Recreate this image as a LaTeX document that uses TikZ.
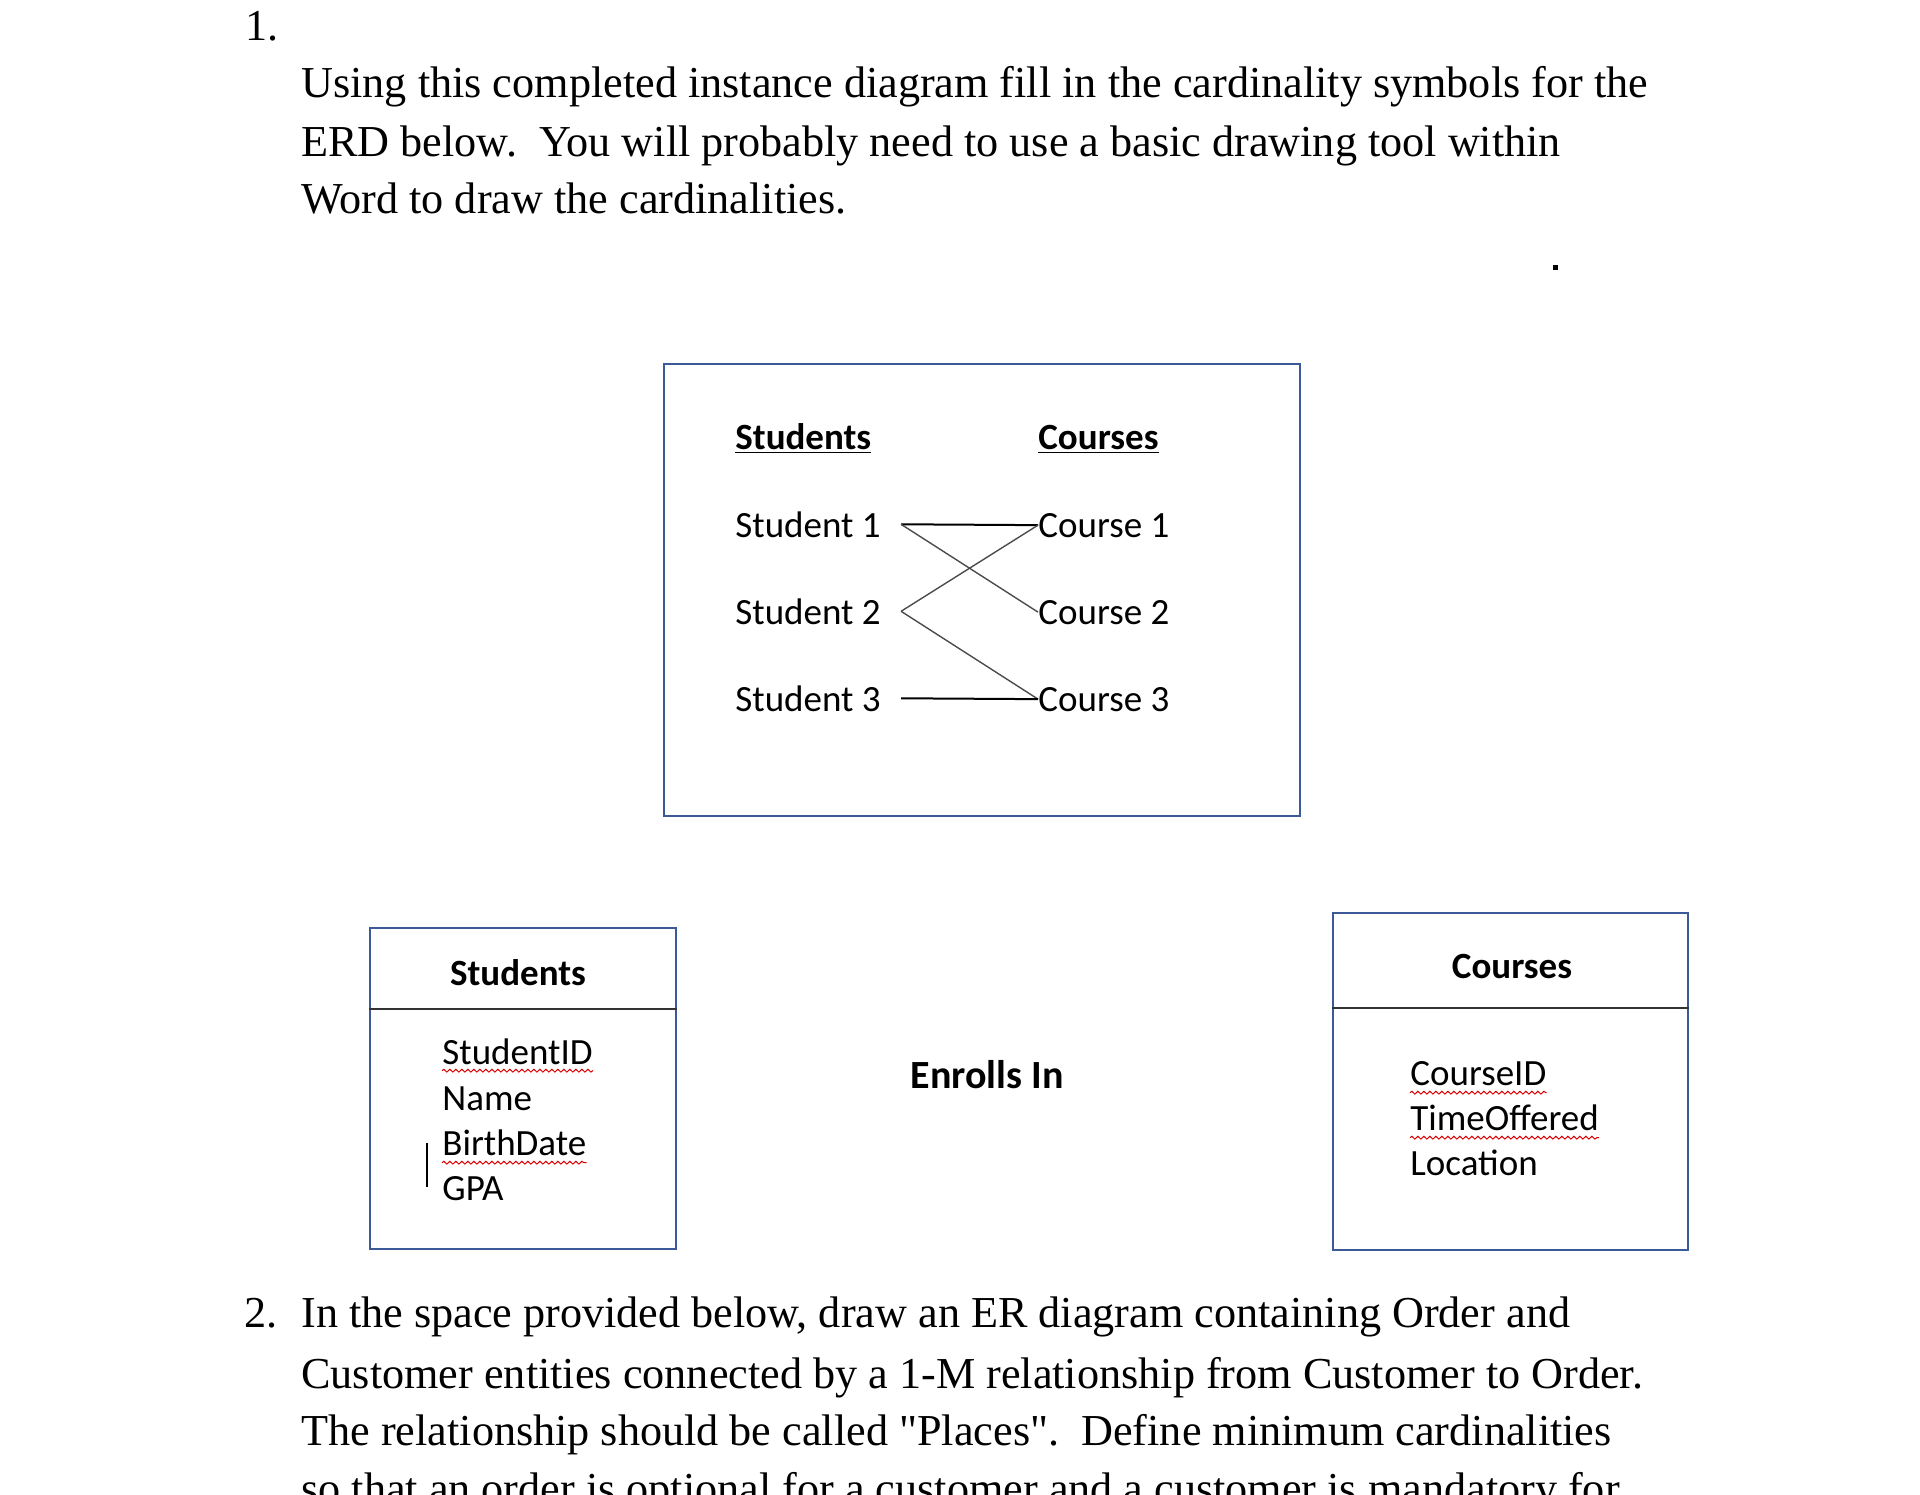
\documentclass[tikz,border=0pt]{standalone}
\usepackage{fontspec}
\newfontfamily\serifplain{Liberation Serif}
\newfontfamily\calfont{Carlito}
\usetikzlibrary{calc,fit,decorations.pathmorphing}
\definecolor{boxblue}{RGB}{60,90,152}
\begin{document}
\begin{tikzpicture}[x=0.5pt,y=-0.5pt,
  para/.style={anchor=base west, inner sep=0pt, font=\serifplain\fontsize{22.1pt}{26pt}\selectfont},
  cal/.style={anchor=base west, inner sep=0pt, font=\calfont\fontsize{18.5pt}{22pt}\selectfont},
  calb/.style={anchor=base, inner sep=0pt, font=\calfont\bfseries\fontsize{18.5pt}{22pt}\selectfont},
  frame/.style={draw=boxblue, line width=1.4pt, inner sep=0pt},
  divider/.style={draw=black!80, line width=1.1pt},
  link/.style={draw=black, line width=1pt},
  diag/.style={draw=black!70, line width=0.7pt},
  wavy/.style={draw=red!85!black, line width=0.5pt, decorate, decoration={snake, segment length=3pt, amplitude=0.7pt}}
]
\fill[white] (0,0) rectangle (1920,1494);
\useasboundingbox (0,0) rectangle (1920,1494);
\clip (0,0) rectangle (1920,1494);

% question 1
\node[para] (n1) at (245,40) {1.};
\node[para] (l1) at (301,97) {Using this completed instance diagram fill in the cardinality symbols for the};
\node[para] (l2) at (301,156) {ERD below.\ \ You will probably need to use a basic drawing tool within};
\node[para] (l3) at (301,213) {Word to draw the cardinalities.};
\node[fill=black, inner sep=0pt, minimum size=2.5pt] (dot) at (1555,267) {};

% instance diagram
\coordinate (tb1) at (664,364);
\coordinate (tb2) at (1300,816);
\node[frame, fit=(tb1)(tb2)] (inst) {};
\node[calb, anchor=base west] (hs) at (735,449) {\underline{Students}};
\node[calb, anchor=base west] (hc) at (1038,449) {\underline{Courses}};
\node[cal] (s1) at (735,537) {Student 1};
\node[cal] (s2) at (735,624) {Student 2};
\node[cal] (s3) at (735,711) {Student 3};
\node[cal] (c1) at (1038,537) {Course 1};
\node[cal] (c2) at (1038,624) {Course 2};
\node[cal] (c3) at (1038,711) {Course 3};
\draw[link] ($(s1.east)+(20,0)$) -- (c1.west);
\draw[diag] ($(s1.east)+(20,0)$) -- (c2.west);
\draw[diag] ($(s2.east)+(20,0)$) -- (c1.west);
\draw[diag] ($(s2.east)+(20,0)$) -- (c3.west);
\draw[link] ($(s3.east)+(20,0)$) -- (c3.west);

% Students entity
\coordinate (sb1) at (370,928);
\coordinate (sb2) at (676,1249);
\node[frame, fit=(sb1)(sb2)] (studbox) {};
\coordinate (sdiv) at (0,1009);
\draw[divider] (studbox.west |- sdiv) -- (studbox.east |- sdiv);
\node[calb] (stt) at (518,985) {Students};
\node[cal] (a1) at (442,1064) {StudentID};
\node[cal] (a2) at (442,1110) {Name};
\node[cal] (a3) at (442,1155) {BirthDate};
\node[cal] (a4) at (442,1200) {GPA};
\draw[wavy] ($(a1.south west)+(0,6)$) -- ($(a1.south east)+(0,6)$);
\draw[wavy] ($(a3.south west)+(0,7)$) -- ($(a3.south east)+(0,7)$);
\draw[line width=0.7pt] (427,1143) -- (427,1187);

% relationship
\node[calb, font=\calfont\bfseries\fontsize{20pt}{24pt}\selectfont] (rel) at (987,1088) {Enrolls In};

% Courses entity
\coordinate (cb1) at (1333,913);
\coordinate (cb2) at (1688,1250);
\node[frame, fit=(cb1)(cb2)] (coursebox) {};
\coordinate (cdiv) at (0,1008);
\draw[divider] (coursebox.west |- cdiv) -- (coursebox.east |- cdiv);
\node[calb] (ctt) at (1512,978) {Courses};
\node[cal] (b1) at (1410,1085) {CourseID};
\node[cal] (b2) at (1410,1130) {TimeOffered};
\node[cal] (b3) at (1410,1175) {Location};
\draw[wavy] ($(b1.south west)+(0,7)$) -- ($(b1.south east)+(0,7)$);
\draw[wavy] ($(b2.south west)+(0,7)$) -- ($(b2.south east)+(0,7)$);

% question 2
\node[para] (n2) at (244,1327) {2.};
\node[para] (m1) at (301,1327) {In the space provided below, draw an ER diagram containing Order and};
\node[para] (m2) at (301,1388) {Customer entities connected by a 1-M relationship from Customer to Order.};
\node[para] (m3) at (301,1445) {The relationship should be called "Places".\ \ Define minimum cardinalities};
\node[para] (m4) at (301,1503) {so that an order is optional for a customer and a customer is mandatory for};
\end{tikzpicture}
\end{document}
